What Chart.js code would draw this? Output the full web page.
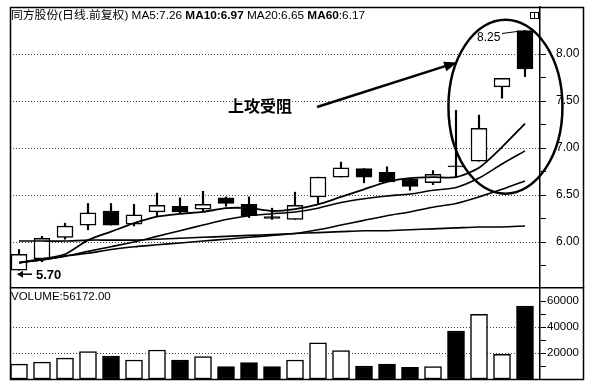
<!DOCTYPE html>
<html><head><meta charset="utf-8">
<script src="https://cdn.jsdelivr.net/npm/chart.js@4.4.0/dist/chart.umd.min.js"></script>
<style>
html,body{margin:0;padding:0;background:#fff;}
#wrap{position:relative;width:594px;height:390px;overflow:hidden;background:#fff;color:#000;font-family:"Liberation Sans","Noto Sans CJK SC",sans-serif;}
canvas{position:absolute;left:0;}
#pc{top:0;}
#vc{top:287px;}
.t{position:absolute;white-space:nowrap;line-height:1;}
#title{left:11px;top:10px;font-size:11.8px;}
#title b{font-weight:bold;}
#note{left:228px;top:97px;font-size:16px;font-family:"Noto Sans CJK SC",sans-serif;font-weight:bold;}
#hi{font-size:12px;}
#lo{font-size:13px;font-weight:bold;}
#vtitle{left:11px;top:291px;font-size:11.5px;}
</style></head>
<body>
<div id="wrap">
<canvas id="pc" width="594" height="288"></canvas>
<canvas id="vc" width="594" height="103"></canvas>
<div class="t" id="title">同方股份(日线.前复权) MA5:7.26 <b>MA10:6.97</b> MA20:6.65 <b>MA60</b>:6.17</div>
<div class="t" id="note">上攻受阻</div>
<div class="t" id="hi">8.25</div>
<div class="t" id="lo">5.70</div>
<div class="t" id="vtitle">VOLUME:56172.00</div>
</div>
<script>
// ---- data ----
const dayIndex = [0,1,2,3,4,5,6,7,8,9,10,11,12,13,14,15,16,17,18,19,20,21,22];
const opens  = [5.70,5.82,6.05,6.18,6.33,6.19,6.32,6.38,6.35,6.47,6.40,6.27,6.24,6.48,6.69,6.78,6.74,6.67,6.63,6.81,6.86,7.65,8.25];
const closes = [5.87,6.04,6.17,6.31,6.18,6.29,6.39,6.32,6.40,6.41,6.28,6.25,6.39,6.69,6.79,6.69,6.64,6.59,6.72,6.80,7.21,7.74,7.84];
const highs  = [5.92,6.06,6.20,6.41,6.41,6.40,6.52,6.47,6.54,6.48,6.48,6.36,6.53,6.69,6.85,6.78,6.80,6.67,6.76,7.40,7.35,7.74,8.25];
const lows   = [5.70,5.79,6.03,6.13,6.18,6.17,6.27,6.31,6.32,6.38,6.26,6.24,6.24,6.41,6.69,6.63,6.64,6.55,6.61,6.69,6.86,7.53,7.76];
const ma5  = [5.78,5.82,5.87,6.02,6.11,6.20,6.27,6.30,6.32,6.36,6.36,6.33,6.35,6.40,6.48,6.56,6.64,6.68,6.69,6.69,6.79,7.01,7.26];
const ma10 = [5.78,5.81,5.85,5.90,5.95,6.00,6.06,6.12,6.18,6.24,6.28,6.30,6.32,6.36,6.42,6.46,6.49,6.51,6.55,6.58,6.68,6.83,6.97];
const ma20 = [5.78,5.81,5.85,5.88,5.92,5.95,5.97,5.99,6.01,6.03,6.05,6.07,6.09,6.13,6.18,6.23,6.28,6.32,6.37,6.41,6.48,6.56,6.65];
const ma60 = [6.01,6.01,6.01,6.02,6.02,6.02,6.03,6.04,6.05,6.06,6.07,6.08,6.09,6.10,6.11,6.12,6.12,6.13,6.14,6.15,6.16,6.16,6.17];
const volumes = [11500,13000,16000,21000,17700,14600,22300,14600,17200,9500,12600,9500,14600,27900,21800,10000,11500,9000,9500,36900,49700,19000,56172];
const priceTicks = [5.75,6.00,6.25,6.50,6.75,7.00,7.25,7.50,7.75,8.00];
const priceLabels = ['','6.00','','6.50','','7.00','','7.50','','8.00'];
const volTicks = [10000,20000,30000,40000,50000,60000];
const volLabels = ['','20000','','40000','','60000'];
const highNote = 8.25, lowNote = 5.70;

const isDown = dayIndex.map(i => closes[i] < opens[i]);
const fillCol = dayIndex.map(i => isDown[i] ? '#000' : '#fff');
const xMin = -0.3913, xMax = 22.652;

function framePlugin(kind){
  return {
    id:'frame_'+kind,
    afterDraw(chart){
      const c = chart.ctx;
      c.save();
      c.strokeStyle = '#000'; c.lineWidth = 1.5; c.setLineDash([]);
      if (kind === 'price') {
        c.beginPath();
        c.moveTo(10, 7.5); c.lineTo(584, 7.5);
        c.moveTo(10.5, 7); c.lineTo(10.5, 288);
        c.moveTo(583.5, 7); c.lineTo(583.5, 288);
        c.stroke();
        // small window icon
        c.lineWidth = 1;
        c.strokeRect(530.5, 12.5, 8, 6);
        c.beginPath(); c.moveTo(534.5, 12.5); c.lineTo(534.5, 18.5); c.stroke();
        const xs = chart.scales.x, ys = chart.scales.y;
        // ellipse annotation
        c.lineWidth = 2.5;
        c.beginPath();
        c.ellipse(xs.getPixelForValue(21.15), ys.getPixelForValue(7.44), 57, 87, 0, 0, Math.PI*2);
        c.stroke();
        // arrow toward the ellipse
        const ax1 = xs.getPixelForValue(12.96), ay1 = ys.getPixelForValue(7.436);
        const ax2 = xs.getPixelForValue(19.05), ay2 = ys.getPixelForValue(7.91);
        c.lineWidth = 2.5;
        c.beginPath(); c.moveTo(ax1, ay1); c.lineTo(ax2 - 8, ay2 + 2.4); c.stroke();
        const ang = Math.atan2(ay2 - ay1, ax2 - ax1);
        c.fillStyle = '#000';
        c.beginPath();
        c.moveTo(ax2, ay2);
        c.lineTo(ax2 - 13*Math.cos(ang) + 5*Math.sin(ang), ay2 - 13*Math.sin(ang) - 5*Math.cos(ang));
        c.lineTo(ax2 - 13*Math.cos(ang) - 5*Math.sin(ang), ay2 - 13*Math.sin(ang) + 5*Math.cos(ang));
        c.closePath(); c.fill();
        // 8.25 leader
        const hx = xs.getPixelForValue(22) - 8, hy = ys.getPixelForValue(highNote);
        c.lineWidth = 1;
        c.beginPath(); c.moveTo(hx - 15, hy + 3); c.lineTo(hx, hy + 1); c.stroke();
        const hiDiv = document.getElementById('hi');
        hiDiv.style.left = (hx - 40) + 'px'; hiDiv.style.top = (hy - 0) + 'px';
        // 5.70 arrow
        const ly = ys.getPixelForValue(lowNote) + 4, lx = xs.getPixelForValue(0) - 1;
        c.lineWidth = 1.5;
        c.beginPath(); c.moveTo(lx, ly); c.lineTo(lx + 14, ly); c.stroke();
        c.beginPath(); c.moveTo(lx - 1, ly); c.lineTo(lx + 5, ly - 3.5); c.lineTo(lx + 5, ly + 3.5); c.closePath(); c.fill();
        const loDiv = document.getElementById('lo');
        loDiv.style.left = (lx + 18) + 'px'; loDiv.style.top = (ly - 6) + 'px';
      } else {
        c.beginPath();
        c.moveTo(10, 0.75); c.lineTo(584, 0.75);
        c.moveTo(10.5, 0); c.lineTo(10.5, 93);
        c.moveTo(583.5, 0); c.lineTo(583.5, 93);
        c.moveTo(10, 92.5); c.lineTo(584, 92.5);
        c.stroke();
      }
      c.restore();
    }
  };
}

function yAxis(min, max, tickVals, tickLabs, majorSet, width, pad, fsize){
  return {
    type:'linear', position:'right', min:min, max:max,
    afterBuildTicks: s => { s.ticks = tickVals.map(v => ({value:v})); },
    afterFit: s => { s.width = width; s.paddingTop = 0; s.paddingBottom = 0; s.paddingLeft = 0; s.paddingRight = 0; },
    ticks:{
      autoSkip:false, padding:pad, color:'#000',
      font:{family:'"Liberation Sans", Arial, sans-serif', size:fsize},
      callback:(v, i) => tickLabs[tickVals.indexOf(v)] ?? ''
    },
    grid:{
      drawOnChartArea:true, drawTicks:true, tickLength:6, tickWidth:1, tickColor:'#000',
      tickBorderDash:[], lineWidth:1,
      color: ctx => (ctx.tick && majorSet.includes(ctx.tick.value)) ? '#444' : 'rgba(0,0,0,0)'
    },
    border:{display:true, color:'#000', width:1.5, dash:[1,2]}
  };
}

const lineDs = (lab, arr, w) => ({
  type:'line', label:lab, data: dayIndex.map(i => ({x:i, y:arr[i]})),
  borderColor:'#000', borderWidth:w, pointRadius:0, tension:0.25, fill:false, order:0
});

new Chart(document.getElementById('pc'), {
  type:'bar',
  data:{ datasets:[
    lineDs('MA5', ma5, 1.8),
    lineDs('MA10', ma10, 1.6),
    lineDs('MA20', ma20, 1.6),
    lineDs('MA60', ma60, 1.6),
    { type:'bar', label:'body', data: dayIndex.map(i => ({x:i, y:[opens[i], closes[i]]})),
      backgroundColor: fillCol, borderColor:'#000', borderWidth:1.5, borderSkipped:false,
      barThickness:16, grouped:false, order:1 },
    { type:'bar', label:'wick', data: dayIndex.map(i => ({x:i, y:[lows[i], highs[i]]})),
      backgroundColor:'#000', borderWidth:0, barThickness:1.5, grouped:false, order:2 }
  ]},
  options:{
    responsive:false, animation:false, devicePixelRatio:1,
    layout:{padding:{left:10, right:10, top:7, bottom:1}},
    plugins:{legend:{display:false}, tooltip:{enabled:false}, title:{display:false}},
    scales:{
      x:{type:'linear', min:xMin, max:xMax, display:false, offset:false},
      y:yAxis(5.5213, 8.5, priceTicks, priceLabels, [6,6.5,7,7.5,8], 44, 10, 12)
    }
  },
  plugins:[framePlugin('price')]
});

new Chart(document.getElementById('vc'), {
  type:'bar',
  data:{ datasets:[
    { label:'VOLUME', data: dayIndex.map(i => ({x:i, y:volumes[i]})),
      backgroundColor: fillCol, borderColor:'#000', borderWidth:1.5, borderSkipped:false,
      barThickness:17, grouped:false }
  ]},
  options:{
    responsive:false, animation:false, devicePixelRatio:1,
    layout:{padding:{left:10, right:10, top:1, bottom:11}},
    plugins:{legend:{display:false}, tooltip:{enabled:false}},
    scales:{
      x:{type:'linear', min:xMin, max:xMax, display:false, offset:false},
      y:yAxis(0, 70000, volTicks, volLabels, [20000,40000], 44, 1, 11.5)
    }
  },
  plugins:[framePlugin('vol')]
});
</script>
</body></html>
